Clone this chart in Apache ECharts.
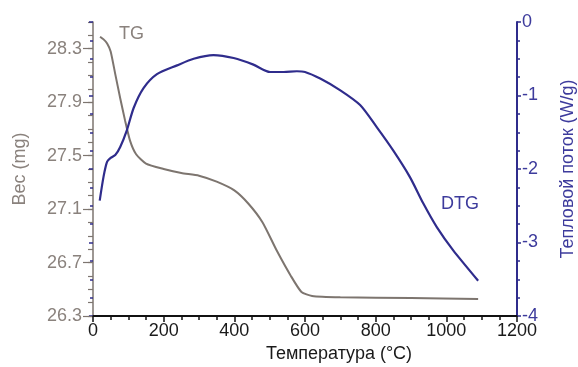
<!DOCTYPE html>
<html><head><meta charset="utf-8">
<script src="https://cdn.jsdelivr.net/npm/echarts@6/dist/echarts.min.js"></script>
<style>html,body{margin:0;padding:0;background:#fff}#c{width:578px;height:367px}</style>
</head><body><div id="c"></div>
<script>
const tgTemp = [20, 30, 40, 50, 63, 77, 91, 105, 122, 150, 200, 250, 300, 350, 400, 440, 480, 520, 560, 590, 620, 700, 900, 1090];
const tgMass = [28.39, 28.37, 28.34, 28.28, 28.11, 27.93, 27.76, 27.61, 27.51, 27.44, 27.40, 27.37, 27.35, 27.305, 27.24, 27.14, 27.00, 26.79, 26.60, 26.48, 26.45, 26.44, 26.434, 26.427];
const dtgTemp = [19, 30, 40, 50, 63, 77, 96, 115, 143, 181, 238, 285, 341, 398, 454, 501, 540, 577, 600, 643, 700, 756, 803, 850, 897, 935, 973, 1020, 1090];
const dtgFlow = [-2.43, -2.1, -1.9, -1.85, -1.81, -1.70, -1.47, -1.17, -0.90, -0.71, -0.59, -0.50, -0.45, -0.49, -0.58, -0.68, -0.68, -0.67, -0.68, -0.77, -0.93, -1.13, -1.43, -1.75, -2.11, -2.47, -2.79, -3.11, -3.52];
const massLabels = [26.3, 26.7, 27.1, 27.5, 27.9, 28.3];

const FONT = "'Liberation Sans', Arial, sans-serif";
const GRAY = '#8a827d';
const GRAYLINE = '#7d756f';
const BLUE = '#2f2c8c';
const BLUET = '#3d3b9c';

const chart = echarts.init(document.getElementById('c'), null, {renderer: 'canvas'});
const tgData = tgTemp.map((t, i) => [t, tgMass[i]]);
const dtgData = dtgTemp.map((t, i) => [t, dtgFlow[i]]);

chart.setOption({
  animation: false,
  backgroundColor: '#fff',
  grid: {left: 93, right: 61, top: 22, bottom: 51, containLabel: false, outerBoundsMode: 'none'},
  xAxis: {
    type: 'value', min: 0, max: 1200, interval: 200,
    name: 'Температура (°C)', nameLocation: 'middle', nameGap: 26,
    nameTextStyle: {color: '#1a1a1a', fontSize: 18, fontFamily: FONT, padding: [0, 0, 0, 68]},
    axisLine: {show: true, onZero: false, lineStyle: {color: '#111', width: 2}},
    axisTick: {show: true, length: 6, lineStyle: {color: '#111', width: 1.5}},
    minorTick: {show: true, splitNumber: 4, length: 4, lineStyle: {color: '#111', width: 1.5}},
    axisLabel: {color: '#1a1a1a', fontSize: 18, fontFamily: FONT, margin: 6, formatter: v => String(v)},
    splitLine: {show: false}
  },
  yAxis: [
    {
      type: 'value', min: 26.3, max: 28.5, interval: 0.1, position: 'left',
      name: 'Вес (mg)', nameLocation: 'middle', nameGap: 64, nameRotate: 90,
      nameTextStyle: {color: GRAY, fontSize: 18, fontFamily: FONT},
      axisLine: {show: true, onZero: false, lineStyle: {color: GRAYLINE, width: 1.5}},
      axisTick: {show: true, length: 5, lineStyle: {color: GRAYLINE, width: 1.2}},
      axisLabel: {show: true, customValues: massLabels, color: GRAY, fontSize: 18, fontFamily: FONT, margin: 11,
        formatter: v => v.toFixed(1)},
      splitLine: {show: false}
    },
    {
      type: 'value', min: -4, max: 0, interval: 1, position: 'right',
      name: 'Тепловой поток (W/g)', nameLocation: 'middle', nameGap: 42, nameRotate: 90,
      nameTextStyle: {color: BLUET, fontSize: 18, fontFamily: FONT},
      axisLine: {show: true, onZero: false, lineStyle: {color: BLUE, width: 2}},
      axisTick: {show: true, length: 4, lineStyle: {color: BLUE, width: 1.5}},
      minorTick: {show: true, splitNumber: 4, length: 3, lineStyle: {color: BLUE, width: 1.5}},
      axisLabel: {color: BLUET, fontSize: 18, fontFamily: FONT, margin: 5, formatter: v => String(v)},
      splitLine: {show: false}
    },
    {
      type: 'value', min: -4, max: 0, interval: 1, position: 'right',
      axisLine: {show: false},
      axisTick: {show: true, inside: true, length: 4, lineStyle: {color: BLUE, width: 1.5}},
      minorTick: {show: true, splitNumber: 4, length: 3, lineStyle: {color: BLUE, width: 1.5}},
      axisLabel: {show: false},
      splitLine: {show: false}
    },
    {
      type: 'value', min: 26.3, max: 28.5, position: 'left',
      axisLine: {show: false},
      axisTick: {show: true, customValues: massLabels, length: 10, lineStyle: {color: GRAYLINE, width: 1.2}},
      axisLabel: {show: false},
      splitLine: {show: false}
    }
  ],
  graphic: [
    {type: 'text', left: 119, top: 25, style: {text: 'TG', fill: GRAY, font: '18px ' + FONT}},
    {type: 'text', left: 441, top: 195, style: {text: 'DTG', fill: BLUET, font: '18px ' + FONT}}
  ],
  series: [
    {type: 'line', name: 'TG', yAxisIndex: 0, data: tgData, smooth: 0.2, showSymbol: false,
      lineStyle: {color: GRAYLINE, width: 2}},
    {type: 'line', name: 'DTG', yAxisIndex: 1, data: dtgData, smooth: 0.25, showSymbol: false,
      lineStyle: {color: BLUE, width: 2.2}}
  ]
});
</script></body></html>
